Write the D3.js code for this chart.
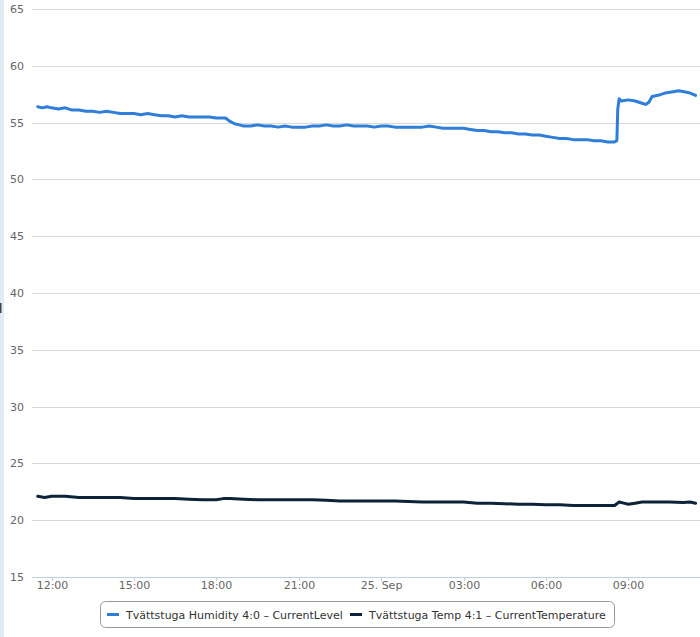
<!DOCTYPE html>
<html>
<head>
<meta charset="utf-8">
<title>Tvättstuga</title>
<script src="https://cdn.jsdelivr.net/npm/d3@7"></script>
<style>
  body { margin: 0; background: #fff; }
  svg { display: block; font-family: "DejaVu Sans", Verdana, sans-serif; }
  .grid line { stroke: #d8d8d8; shape-rendering: crispEdges; }
  .ylab { font-size: 11px; fill: #666; }
  .xlab { font-size: 11px; fill: #666; }
  .legend text { font-size: 11px; fill: #333; }
</style>
</head>
<body>
<div id="chart"></div>
<script>
// humidity series (time, %)
var humTimes = [
  "09-24 11:30","09-24 11:40","09-24 11:50","09-24 12:00","09-24 12:15","09-24 12:30","09-24 12:45",
  "09-24 13:00","09-24 13:15","09-24 13:30","09-24 13:45","09-24 14:00","09-24 14:15","09-24 14:30",
  "09-24 14:45","09-24 15:00","09-24 15:15","09-24 15:30","09-24 15:45","09-24 16:00","09-24 16:15",
  "09-24 16:30","09-24 16:45","09-24 17:00","09-24 17:15","09-24 17:30","09-24 17:45","09-24 18:00",
  "09-24 18:15","09-24 18:20","09-24 18:30","09-24 18:40","09-24 18:50","09-24 19:00","09-24 19:15",
  "09-24 19:30","09-24 19:45","09-24 20:00","09-24 20:15","09-24 20:30","09-24 20:45","09-24 21:00",
  "09-24 21:15","09-24 21:30","09-24 21:45","09-24 22:00","09-24 22:15","09-24 22:30","09-24 22:45",
  "09-24 23:00","09-24 23:15","09-24 23:30","09-24 23:45","09-25 00:00","09-25 00:15","09-25 00:30",
  "09-25 00:45","09-25 01:00","09-25 01:15","09-25 01:30","09-25 01:45","09-25 02:00","09-25 02:15",
  "09-25 02:30","09-25 02:45","09-25 03:00","09-25 03:15","09-25 03:30","09-25 03:45","09-25 04:00",
  "09-25 04:15","09-25 04:30","09-25 04:45","09-25 05:00","09-25 05:15","09-25 05:30","09-25 05:45",
  "09-25 06:00","09-25 06:15","09-25 06:30","09-25 06:45","09-25 07:00","09-25 07:15","09-25 07:30",
  "09-25 07:45","09-25 08:00","09-25 08:15","09-25 08:30","09-25 08:35","09-25 08:37","09-25 08:40",
  "09-25 08:45","09-25 09:00","09-25 09:15","09-25 09:30","09-25 09:38","09-25 09:45","09-25 09:52",
  "09-25 10:05","09-25 10:20","09-25 10:35","09-25 10:50","09-25 11:05","09-25 11:15","09-25 11:27"
];
var humValues = [
  56.4,56.3,56.4,56.3,56.2,56.3,56.1,
  56.1,56.0,56.0,55.9,56.0,55.9,55.8,
  55.8,55.8,55.7,55.8,55.7,55.6,55.6,
  55.5,55.6,55.5,55.5,55.5,55.5,55.4,
  55.4,55.4,55.1,54.9,54.8,54.7,54.7,
  54.8,54.7,54.7,54.6,54.7,54.6,54.6,
  54.6,54.7,54.7,54.8,54.7,54.7,54.8,
  54.7,54.7,54.7,54.6,54.7,54.7,54.6,
  54.6,54.6,54.6,54.6,54.7,54.6,54.5,
  54.5,54.5,54.5,54.4,54.3,54.3,54.2,
  54.2,54.1,54.1,54.0,54.0,53.9,53.9,
  53.8,53.7,53.6,53.6,53.5,53.5,53.5,
  53.4,53.4,53.3,53.3,53.4,56.2,57.1,
  56.9,57.0,56.9,56.7,56.6,56.8,57.3,
  57.4,57.6,57.7,57.8,57.7,57.6,57.4
];

// temperature series (time, °C)
var tempTimes = [
  "09-24 11:30","09-24 11:45","09-24 12:00","09-24 12:30","09-24 13:00","09-24 13:30","09-24 14:00",
  "09-24 14:30","09-24 15:00","09-24 15:30","09-24 16:00","09-24 16:30","09-24 17:00","09-24 17:30",
  "09-24 18:00","09-24 18:15","09-24 18:30","09-24 19:00","09-24 19:30","09-24 20:00","09-24 21:00",
  "09-24 21:30","09-24 22:00","09-24 22:30","09-24 23:00","09-25 00:00","09-25 00:30","09-25 01:00",
  "09-25 01:30","09-25 02:00","09-25 02:30","09-25 03:00","09-25 03:30","09-25 04:00","09-25 04:30",
  "09-25 05:00","09-25 05:30","09-25 06:00","09-25 06:30","09-25 07:00","09-25 07:30","09-25 08:00",
  "09-25 08:30","09-25 08:40","09-25 08:50","09-25 09:00","09-25 09:15","09-25 09:30","09-25 10:00",
  "09-25 10:30","09-25 11:00","09-25 11:15","09-25 11:27"
];
var tempValues = [
  22.1,22.0,22.1,22.1,22.0,22.0,22.0,
  22.0,21.9,21.9,21.9,21.9,21.85,21.8,
  21.8,21.9,21.9,21.85,21.8,21.8,21.8,
  21.8,21.75,21.7,21.7,21.7,21.7,21.65,
  21.6,21.6,21.6,21.6,21.5,21.5,21.45,
  21.4,21.4,21.35,21.35,21.3,21.3,21.3,
  21.3,21.6,21.5,21.4,21.5,21.6,21.6,
  21.6,21.55,21.6,21.5
];

var seriesNames = ["Tvättstuga Humidity 4:0 – CurrentLevel", "Tvättstuga Temp 4:1 – CurrentTemperature"];
var seriesColors = ["#2f7ed8", "#0d233a"];
var yTicks = [15, 20, 25, 30, 35, 40, 45, 50, 55, 60, 65];
var xTicks = ["09-24 12:00","09-24 15:00","09-24 18:00","09-24 21:00","09-25 00:00","09-25 03:00","09-25 06:00","09-25 09:00"];

var width = 700, height = 637;
var parse = d3.timeParse("%Y-%m-%d %H:%M");
function t(s) { return parse("2013-" + s); }

var svg = d3.select("#chart").append("svg")
  .attr("width", width).attr("height", height);

// left panel edge
svg.append("rect").attr("x", 0).attr("y", 0).attr("width", 4).attr("height", height).attr("fill", "#e2ebf5");
svg.append("rect").attr("x", 0).attr("y", 303).attr("width", 1.5).attr("height", 10).attr("fill", "#444");

var x = d3.scaleTime()
  .domain([t("09-24 12:00"), t("09-25 09:00")])
  .range([51.5, 628.3]);
var y = d3.scaleLinear().domain([15, 65]).range([577, 9]);

// grid
var grid = svg.append("g").attr("class", "grid");
grid.selectAll("line").data(yTicks.slice(1)).enter().append("line")
  .attr("x1", 32).attr("x2", width)
  .attr("y1", function(d) { return Math.round(y(d)) + 0.5; })
  .attr("y2", function(d) { return Math.round(y(d)) + 0.5; });

svg.selectAll(".ylab").data(yTicks).enter().append("text")
  .attr("class", "ylab")
  .attr("x", 24).attr("y", function(d) { return y(d) + 4; })
  .attr("text-anchor", "end")
  .text(function(d) { return d; });

// x axis
svg.append("line").attr("x1", 32).attr("x2", width)
  .attr("y1", 577.5).attr("y2", 577.5).attr("stroke", "#c0d0e0");
var fmt = function(d) { return d.getHours() === 0 ? d3.timeFormat("%d. %b")(d) : d3.timeFormat("%H:%M")(d); };
var xt = svg.selectAll(".xt").data(xTicks.map(t)).enter().append("g")
  .attr("transform", function(d) { return "translate(" + (Math.round(x(d)) + 0.5) + ",0)"; });
xt.append("line").attr("y1", 577).attr("y2", 581).attr("stroke", "#c0d0e0");
xt.append("text").attr("class", "xlab").attr("y", 589).attr("text-anchor", "middle").text(fmt);

// series
var line = d3.line()
  .x(function(d) { return x(d[0]); })
  .y(function(d) { return y(d[1]); });

var hum = humTimes.map(function(s, i) { return [t(s), humValues[i]]; });
var tmp = tempTimes.map(function(s, i) { return [t(s), tempValues[i]]; });

[hum, tmp].forEach(function(data, i) {
  svg.append("path").datum(data)
    .attr("fill", "none")
    .attr("stroke", seriesColors[i])
    .attr("stroke-width", 3)
    .attr("stroke-linejoin", "round")
    .attr("stroke-linecap", "round")
    .attr("d", line);
});

// legend
var legend = svg.append("g").attr("class", "legend");
legend.append("rect")
  .attr("x", 100.5).attr("y", 601.5).attr("width", 514).attr("height", 26)
  .attr("rx", 5).attr("fill", "#fff").attr("stroke", "#999");
var itemX = [107, 350];
seriesNames.forEach(function(name, i) {
  legend.append("line")
    .attr("x1", itemX[i]).attr("x2", itemX[i] + 12)
    .attr("y1", 614.5).attr("y2", 614.5)
    .attr("stroke", seriesColors[i]).attr("stroke-width", 3);
  legend.append("text")
    .attr("x", itemX[i] + 19).attr("y", 618.5)
    .text(name);
});
</script>
</body>
</html>
